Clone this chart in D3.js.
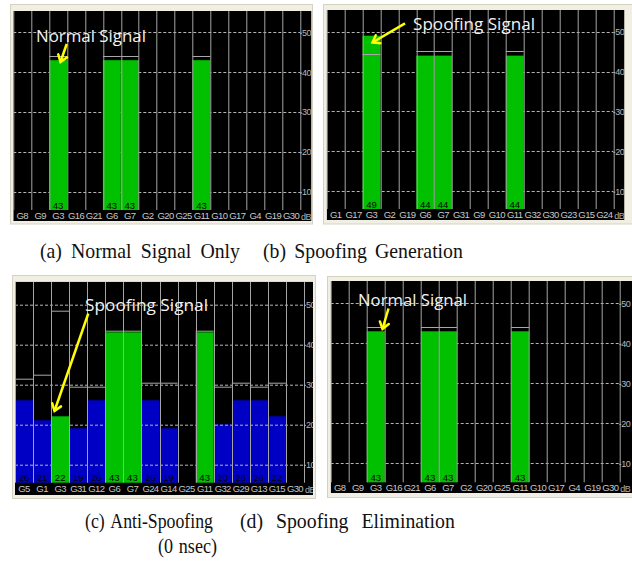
<!DOCTYPE html>
<html><head><meta charset="utf-8">
<script src="https://cdn.jsdelivr.net/npm/d3@7"></script>
<style>body{margin:0;background:#fff} svg{display:block}</style>
</head><body>
<script>
// ---------- DATA ----------
const catsA   = ["G8","G9","G3","G16","G21","G6","G7","G2","G20","G25","G11","G10","G17","G4","G19","G30"];
const valuesA = [null,null,43,null,null,43,43,null,null,null,43,null,null,null,null,null];
const peaksA  = [null,null,44,null,null,44,44,null,null,null,44,null,null,null,null,null];
const statesA = ["","","used","","","used","used","","","","used","","","","",""];

const catsB   = ["G1","G17","G3","G2","G19","G6","G7","G31","G9","G10","G11","G32","G30","G23","G15","G24"];
const valuesB = [null,null,49,null,null,44,44,null,null,null,44,null,null,null,null,null];
const peaksB  = [null,null,44.3,null,null,45.2,45.2,null,null,null,45.2,null,null,null,null,null];
const statesB = ["","","used","","","used","used","","","","used","","","","",""];

const catsC   = ["G5","G1","G3","G31","G12","G6","G7","G24","G14","G25","G11","G32","G29","G13","G15","G30"];
const valuesC = [26,21,22,19,26,43,43,26,19,null,43,20,26,26,22,null];
const peaksC  = [31.3,32.3,48.3,29.3,29.3,43.4,43.4,30.3,30.3,null,43.4,29.3,30.3,29.3,30.3,null];
const statesC = ["track","track","used","track","track","used","used","track","track","","used","track","track","track","track",""];

const catsD   = ["G8","G9","G3","G16","G21","G6","G7","G2","G20","G25","G11","G10","G17","G4","G19","G30"];
const valuesD = [null,null,43,null,null,43,43,null,null,null,43,null,null,null,null,null];
const peaksD  = [null,null,44.1,null,null,44.1,44.1,null,null,null,44.1,null,null,null,null,null];
const statesD = ["","","used","","","used","used","","","","used","","","","",""];

const yTicks = [10, 20, 30, 40, 50];
const unitLabel = "dB";
const annotations = ["Normal Signal", "Spoofing Signal", "Spoofing Signal", "Normal Signal"];
const captions = ["(a) Normal Signal Only", "(b) Spoofing Generation", "(c) Anti-Spoofing", "(d) Spoofing Elimination", "(0 nsec)"];

// ---------- LAYOUT ----------
const layouts = [
  {x0:13.3, x1:300,   top:11,    bottom:210,   right:311.5, lblBottom:221, y0:231.5, y50:32.3,
   frame:[10.5,4.5,302,219.5], ann:{x:36,y:42,w:110, ax1:66.7,ay1:44,ax2:60.5,ay2:62}},
  {x0:326.7, x1:613.3, top:10,   bottom:209,   right:624.5, lblBottom:220, y0:231, y50:31.7,
   frame:[323.5,4.5,310,219.5], ann:{x:413,y:30,w:122, ax1:405,ay1:23.3,ax2:372.5,ay2:42.5}},
  {x0:15, x1:304,     top:281.7, bottom:482.7, right:313, lblBottom:495, y0:504.3, y50:304.3,
   frame:[12.5,275.5,303,223], ann:{x:85,y:310.7,w:123, ax1:88.3,ay1:313.5,ax2:54.5,ay2:411}},
  {x0:330.7, x1:619.3, top:281,  bottom:482.3, right:632, lblBottom:493, y0:503.3, y50:303.3,
   frame:[327.5,276.5,306,221], ann:{x:358,y:305.7,w:109, ax1:388.5,ay1:308.5,ax2:382.5,ay2:329}}
];
const captionPos = [
  {x:40,y:258,w:200},{x:263,y:258,w:200},{x:85,y:528,w:128},{x:240,y:528,w:215},{x:158,y:553,w:59}
];

const W = 632, H = 577;
const svg = d3.select("body").append("svg").attr("width", W).attr("height", H);
const defs = svg.append("defs");

const GREEN = "#00c000", BLUE = "#0000c4", SEP = "#a4a4a4", GRID = "#b4b4b4";
const sans = "'Liberation Sans', Arial, sans-serif";

const panels = [
  {cats:catsA, values:valuesA, peaks:peaksA, states:statesA},
  {cats:catsB, values:valuesB, peaks:peaksB, states:statesB},
  {cats:catsC, values:valuesC, peaks:peaksC, states:statesC},
  {cats:catsD, values:valuesD, peaks:peaksD, states:statesD}
];

panels.forEach((p, i) => {
  const L = layouts[i];
  const pw = L.x1 - L.x0, ph = L.bottom - L.top;
  // window frame
  svg.append("rect").attr("x", L.frame[0]).attr("y", L.frame[1])
    .attr("width", L.frame[2]).attr("height", L.frame[3])
    .attr("fill", "#f1efe4").attr("stroke", "#d6d2c2").attr("stroke-width", 1);

  const clipId = "clip" + i;
  defs.append("clipPath").attr("id", clipId).append("rect")
    .attr("x", 0).attr("y", 0).attr("width", L.right - L.x0).attr("height", L.lblBottom - L.top);

  const g = svg.append("g").attr("transform", `translate(${L.x0},${L.top})`)
    .attr("clip-path", `url(#${clipId})`);
  g.append("rect").attr("width", L.right - L.x0).attr("height", L.lblBottom - L.top).attr("fill", "#000");

  const x = d3.scaleBand().domain(p.cats).range([0, pw]);
  const y = d3.scaleLinear().domain([0, 50]).range([L.y0 - L.top, L.y50 - L.top]);
  const rows = p.cats.map((c, k) => ({c, v:p.values[k], pk:p.peaks[k], s:p.states[k]}));

  const barG = (sel) => sel.append("rect")
      .attr("x", d => x(d.c)).attr("width", x.bandwidth())
      .attr("y", d => y(d.v)).attr("height", d => ph - y(d.v));

  // tracked (blue) bars
  g.append("g").selectAll("rect").data(rows.filter(d => d.v != null && d.s === "track"))
    .join(enter => barG(enter)).attr("fill", BLUE);

  // dashed grid
  g.append("g").selectAll("line").data(yTicks).join("line")
    .attr("x1", 0).attr("x2", pw).attr("y1", d => Math.round(y(d)) + 0.5).attr("y2", d => Math.round(y(d)) + 0.5)
    .attr("stroke", GRID).attr("stroke-width", 1).attr("stroke-dasharray", "3,2");

  // used (green) bars
  g.append("g").selectAll("rect").data(rows.filter(d => d.v != null && d.s === "used"))
    .join(enter => barG(enter)).attr("fill", GREEN);

  // peak lines
  g.append("g").selectAll("line").data(rows.filter(d => d.pk != null)).join("line")
    .attr("x1", d => x(d.c)).attr("x2", d => x(d.c) + x.bandwidth())
    .attr("y1", d => Math.round(y(d.pk)) + 0.5).attr("y2", d => Math.round(y(d.pk)) + 0.5)
    .attr("stroke", "#a8a8a8").attr("stroke-width", 1);

  // column separators
  const seps = p.cats.map(c => x(c)).concat([pw]);
  g.append("g").selectAll("line").data(seps).join("line")
    .attr("x1", d => Math.round(d) + 0.5).attr("x2", d => Math.round(d) + 0.5)
    .attr("y1", 0).attr("y2", ph)
    .attr("stroke", SEP).attr("stroke-width", 1);

  // value labels
  g.append("g").selectAll("text").data(rows.filter(d => d.v != null)).join("text")
    .attr("x", d => x(d.c) + x.bandwidth() / 2).attr("y", ph - 1.5)
    .attr("text-anchor", "middle").attr("font-family", sans).attr("font-size", 9.5)
    .attr("fill", "#050505").text(d => d.v);

  // right axis (tick labels)
  const ay = g.append("g").attr("transform", `translate(${pw},0)`)
    .call(d3.axisRight(y).tickValues(yTicks).tickSize(2).tickPadding(0));
  ay.select(".domain").remove();
  ay.selectAll("line").attr("stroke", GRID).attr("transform", "translate(0,0.5)");
  ay.selectAll("text").attr("fill", "#b8b8b8").attr("font-family", sans).attr("font-size", 9)
    .attr("letter-spacing", -0.6);

  // bottom axis (satellite labels)
  const ax = g.append("g").attr("transform", `translate(0,${ph})`)
    .call(d3.axisBottom(x).tickSize(0).tickPadding(0));
  ax.select(".domain").remove();
  ax.selectAll("text").attr("fill", "#c8c8c8").attr("font-family", sans).attr("font-size", 9.5)
    .attr("letter-spacing", -0.6).attr("dy", null).attr("y", 9);
  g.append("text").attr("x", pw + 1).attr("y", ph + 10).attr("fill", "#b0b0b0")
    .attr("font-family", sans).attr("font-size", 9).attr("letter-spacing", -0.6).text(unitLabel);

  // annotation
  const A = L.ann;
  svg.append("text").attr("x", A.x).attr("y", A.y)
    .attr("font-family", "'Open Sans', 'Noto Sans', sans-serif").attr("font-size", 16.5)
    .attr("fill", "#f2f2f2").attr("textLength", A.w).attr("lengthAdjust", "spacingAndGlyphs")
    .text(annotations[i]);
  const ang = Math.atan2(A.ay2 - A.ay1, A.ax2 - A.ax1);
  const hl = 8, ha = 0.62;
  const h1 = [A.ax2 - hl * Math.cos(ang - ha), A.ay2 - hl * Math.sin(ang - ha)];
  const h2 = [A.ax2 - hl * Math.cos(ang + ha), A.ay2 - hl * Math.sin(ang + ha)];
  svg.append("path").attr("d", `M${A.ax1},${A.ay1}L${A.ax2},${A.ay2}`)
    .attr("stroke", "#ffff00").attr("stroke-width", 2.5).attr("fill", "none");
  svg.append("path").attr("d", `M${h1[0]},${h1[1]}L${A.ax2},${A.ay2}L${h2[0]},${h2[1]}`)
    .attr("stroke", "#ffff00").attr("stroke-width", 2.5).attr("fill", "none")
    .attr("stroke-linejoin", "miter").attr("stroke-linecap", "round");
});

// captions: condensed serif, words justified across the measured span
const sx0 = 0.9, minGap = 7;
captions.forEach((c, k) => {
  const P = captionPos[k];
  const words = c.split(" ");
  const g = svg.append("g");
  const t = g.append("text").attr("x", 0).attr("y", 0)
    .attr("font-family", "'Liberation Serif', 'Times New Roman', serif").attr("font-size", 22)
    .attr("fill", "#111");
  const spans = words.map(w => t.append("tspan").text(w));
  const widths = spans.map(s => s.node().getComputedTextLength());
  const need = d3.sum(widths) + minGap * (words.length - 1);
  const sx = Math.min(sx0, P.w / need);
  g.attr("transform", `translate(${P.x},${P.y}) scale(${sx},1)`);
  const total = P.w / sx;
  const gap = words.length > 1 ? (total - d3.sum(widths)) / (words.length - 1) : 0;
  let cx = 0;
  spans.forEach((s, j) => { s.attr("x", cx); cx += widths[j] + gap; });
});
</script>
</body></html>
